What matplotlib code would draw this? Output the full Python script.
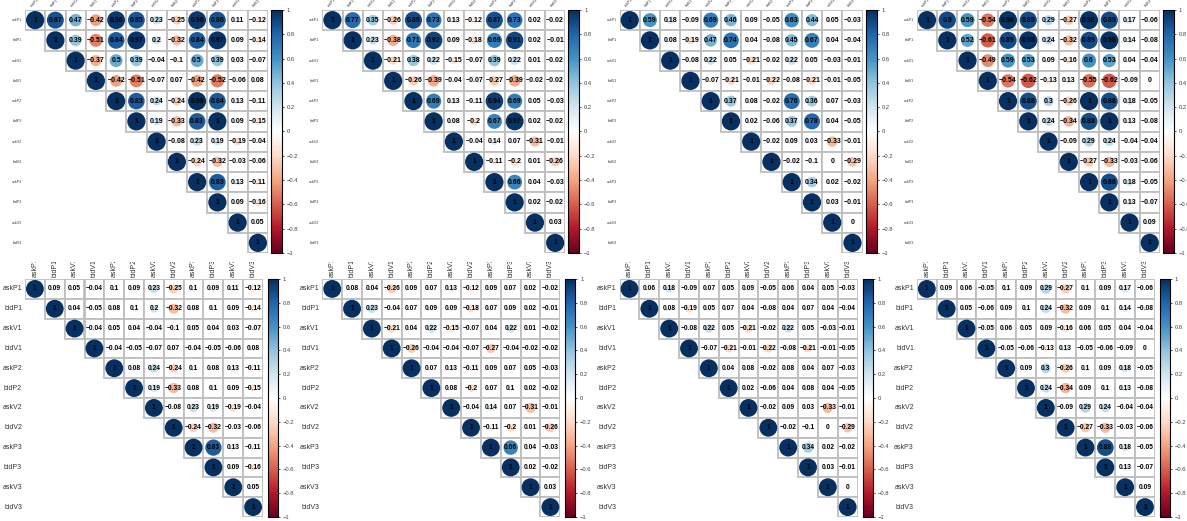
import numpy as np
import matplotlib
matplotlib.use('Agg')
import matplotlib.pyplot as plt
from matplotlib.colors import LinearSegmentedColormap, Normalize
from matplotlib.patches import Rectangle, Circle
from matplotlib.cm import ScalarMappable
from matplotlib.transforms import Bbox, TransformedBbox

plt.rcParams['font.family'] = ['Liberation Sans', 'DejaVu Sans']

labels = ['askP1', 'bidP1', 'askV1', 'bidV1', 'askP2', 'bidP2',
          'askV2', 'bidV2', 'askP3', 'bidP3', 'askV3', 'bidV3']

# upper triangle rows (diagonal first)
p1 = [[1, 0.87, 0.47, -0.42, 0.96, 0.85, 0.23, -0.25, 0.96, 0.86, 0.11, -0.12],
      [1, 0.39, -0.51, 0.84, 0.97, 0.2, -0.32, 0.84, 0.97, 0.09, -0.14],
      [1, -0.37, 0.5, 0.39, -0.04, -0.1, 0.5, 0.39, 0.03, -0.07],
      [1, -0.42, -0.51, -0.07, 0.07, -0.42, -0.52, -0.06, 0.08],
      [1, 0.83, 0.24, -0.24, 0.99, 0.84, 0.13, -0.11],
      [1, 0.19, -0.33, 0.83, 1, 0.09, -0.15],
      [1, -0.08, 0.23, 0.19, -0.19, -0.04],
      [1, -0.24, -0.32, -0.03, -0.06],
      [1, 0.83, 0.13, -0.11],
      [1, 0.09, -0.16],
      [1, 0.05],
      [1]]

p2 = [[1, 0.77, 0.35, -0.26, 0.89, 0.73, 0.13, -0.12, 0.87, 0.73, 0.02, -0.02],
      [1, 0.23, -0.38, 0.71, 0.92, 0.09, -0.18, 0.69, 0.91, 0.02, -0.01],
      [1, -0.21, 0.38, 0.22, -0.15, -0.07, 0.39, 0.22, 0.01, -0.02],
      [1, -0.26, -0.39, -0.04, -0.07, -0.27, -0.39, -0.02, -0.02],
      [1, 0.69, 0.13, -0.11, 0.94, 0.69, 0.05, -0.03],
      [1, 0.08, -0.2, 0.67, 0.97, 0.02, -0.02],
      [1, -0.04, 0.14, 0.07, -0.31, -0.01],
      [1, -0.11, -0.2, 0.01, -0.26],
      [1, 0.66, 0.04, -0.03],
      [1, 0.02, -0.02],
      [1, 0.03],
      [1]]

p3 = [[1, 0.59, 0.18, -0.09, 0.69, 0.46, 0.09, -0.05, 0.63, 0.44, 0.05, -0.03],
      [1, 0.08, -0.19, 0.47, 0.74, 0.04, -0.08, 0.45, 0.67, 0.04, -0.04],
      [1, -0.08, 0.22, 0.05, -0.21, -0.02, 0.22, 0.05, -0.03, -0.01],
      [1, -0.07, -0.21, -0.01, -0.22, -0.08, -0.21, -0.01, -0.05],
      [1, 0.37, 0.08, -0.02, 0.76, 0.36, 0.07, -0.03],
      [1, 0.02, -0.06, 0.37, 0.78, 0.04, -0.05],
      [1, -0.02, 0.09, 0.03, -0.33, -0.01],
      [1, -0.02, -0.1, 0, -0.29],
      [1, 0.34, 0.02, -0.02],
      [1, 0.03, -0.01],
      [1, 0],
      [1]]

p4 = [[1, 0.9, 0.59, -0.54, 0.98, 0.89, 0.29, -0.27, 0.98, 0.89, 0.17, -0.06],
      [1, 0.52, -0.61, 0.89, 0.98, 0.24, -0.32, 0.89, 0.98, 0.14, -0.08],
      [1, -0.49, 0.59, 0.53, 0.09, -0.16, 0.6, 0.53, 0.04, -0.04],
      [1, -0.54, -0.62, -0.13, 0.13, -0.55, -0.62, -0.09, 0],
      [1, 0.88, 0.3, -0.26, 1, 0.88, 0.18, -0.05],
      [1, 0.24, -0.34, 0.88, 1, 0.13, -0.08],
      [1, -0.09, 0.29, 0.24, -0.04, -0.04],
      [1, -0.27, -0.33, -0.03, -0.06],
      [1, 0.88, 0.18, -0.05],
      [1, 0.13, -0.07],
      [1, 0.09],
      [1]]

p5 = [[1, 0.09, 0.05, -0.04, 0.1, 0.09, 0.23, -0.25, 0.1, 0.09, 0.11, -0.12],
      [1, 0.04, -0.05, 0.08, 0.1, 0.2, -0.32, 0.08, 0.1, 0.09, -0.14],
      [1, -0.04, 0.05, 0.04, -0.04, -0.1, 0.05, 0.04, 0.03, -0.07],
      [1, -0.04, -0.05, -0.07, 0.07, -0.04, -0.05, -0.06, 0.08],
      [1, 0.08, 0.24, -0.24, 0.1, 0.08, 0.13, -0.11],
      [1, 0.19, -0.33, 0.08, 0.1, 0.09, -0.15],
      [1, -0.08, 0.23, 0.19, -0.19, -0.04],
      [1, -0.24, -0.32, -0.03, -0.06],
      [1, 0.83, 0.13, -0.11],
      [1, 0.09, -0.16],
      [1, 0.05],
      [1]]

p6 = [[1, 0.08, 0.04, -0.26, 0.09, 0.07, 0.13, -0.12, 0.09, 0.07, 0.02, -0.02],
      [1, 0.23, -0.04, 0.07, 0.09, 0.09, -0.18, 0.07, 0.09, 0.02, -0.01],
      [1, -0.21, 0.04, 0.22, -0.15, -0.07, 0.04, 0.22, 0.01, -0.02],
      [1, -0.26, -0.04, -0.04, -0.07, -0.27, -0.04, -0.02, -0.02],
      [1, 0.07, 0.13, -0.11, 0.09, 0.07, 0.05, -0.03],
      [1, 0.08, -0.2, 0.07, 0.1, 0.02, -0.02],
      [1, -0.04, 0.14, 0.07, -0.31, -0.01],
      [1, -0.11, -0.2, 0.01, -0.26],
      [1, 0.66, 0.04, -0.03],
      [1, 0.02, -0.02],
      [1, 0.03],
      [1]]

p7 = [[1, 0.06, 0.18, -0.09, 0.07, 0.05, 0.09, -0.05, 0.06, 0.04, 0.05, -0.03],
      [1, 0.08, -0.19, 0.05, 0.07, 0.04, -0.08, 0.04, 0.07, 0.04, -0.04],
      [1, -0.08, 0.22, 0.05, -0.21, -0.02, 0.22, 0.05, -0.03, -0.01],
      [1, -0.07, -0.21, -0.01, -0.22, -0.08, -0.21, -0.01, -0.05],
      [1, 0.04, 0.08, -0.02, 0.08, 0.04, 0.07, -0.03],
      [1, 0.02, -0.06, 0.04, 0.08, 0.04, -0.05],
      [1, -0.02, 0.09, 0.03, -0.33, -0.01],
      [1, -0.02, -0.1, 0, -0.29],
      [1, 0.34, 0.02, -0.02],
      [1, 0.03, -0.01],
      [1, 0],
      [1]]

p8 = [[1, 0.09, 0.06, -0.05, 0.1, 0.09, 0.29, -0.27, 0.1, 0.09, 0.17, -0.06],
      [1, 0.05, -0.06, 0.09, 0.1, 0.24, -0.32, 0.09, 0.1, 0.14, -0.08],
      [1, -0.05, 0.06, 0.05, 0.09, -0.16, 0.06, 0.05, 0.04, -0.04],
      [1, -0.05, -0.06, -0.13, 0.13, -0.05, -0.06, -0.09, 0],
      [1, 0.09, 0.3, -0.26, 0.1, 0.09, 0.18, -0.05],
      [1, 0.24, -0.34, 0.09, 0.1, 0.13, -0.08],
      [1, -0.09, 0.29, 0.24, -0.04, -0.04],
      [1, -0.27, -0.33, -0.03, -0.06],
      [1, 0.88, 0.18, -0.05],
      [1, 0.13, -0.07],
      [1, 0.09],
      [1]]

panels = [p1, p2, p3, p4, p5, p6, p7, p8]
cb_ticks = [-1, -0.8, -0.6, -0.4, -0.2, 0, 0.2, 0.4, 0.6, 0.8, 1]

# corrplot COL2('RdBu')
cmap = LinearSegmentedColormap.from_list('corr', [
    '#67001F', '#B2182B', '#D6604D', '#F4A582', '#FDDBC7', '#FFFFFF',
    '#D1E5F0', '#92C5DE', '#4393C3', '#2166AC', '#053061'], N=200)
norm = Normalize(-1, 1)

W, H = 1187, 521
fig = plt.figure(figsize=(W / 100, H / 100), dpi=100)


def fmt(v):
    s = ('%.2f' % v).rstrip('0').rstrip('.')
    if s in ('-0', '0'):
        s = '0'
    return s.replace('-', '\u2212')


def px_axes(l, t, w, h):
    return fig.add_axes([l / W, 1 - (t + h) / H, w / W, h / H])


for k, rows in enumerate(panels):
    c = k % 4
    top_row = k < 4
    x0 = 297.3 * c
    if top_row:
        gl, gt, gs = x0 + 25, 10, 243
        cl, cw = x0 + 271, 11
        lab_fs, num_fs, cb_fs = 2.6, 5, 4.2
    else:
        gl, gt, gs = x0 + 25, 279, 238
        cl, cw = x0 + 268, 10
        lab_fs, num_fs, cb_fs = 5, 4.8, 4.2

    ax = px_axes(gl, gt, gs, gs)
    n = len(labels)
    ax.set_xlim(-0.5, n - 0.5)
    ax.set_ylim(n - 0.5, -0.5)
    ax.axis('off')

    for i, row in enumerate(rows):
        for dj, v in enumerate(row):
            j = i + dj
            ax.add_patch(Rectangle((j - 0.5, i - 0.5), 1, 1, facecolor='white',
                                   edgecolor='#BEBEBE', lw=1.3, zorder=1))
            r = 0.9 * np.sqrt(abs(v)) / 2
            if r > 0:
                ax.add_patch(Circle((j, i), r, facecolor=cmap(norm(v)),
                                    edgecolor='none', zorder=2))
            ax.text(j, i, fmt(v), ha='center', va='center', fontsize=num_fs,
                    fontweight='bold', color='black', zorder=3)

    # row labels on the left, column labels on top
    for i, name in enumerate(labels):
        ax.text(-0.65, i, name, ha='right', va='center', fontsize=lab_fs,
                color='#333333', clip_on=False)
        if top_row:
            ax.text(i - 0.15, -0.6, name, ha='left', va='bottom', rotation=45,
                    rotation_mode='anchor', fontsize=lab_fs, color='#333333',
                    clip_on=False)
        else:
            t = ax.text(i, -0.6, name, ha='center', va='bottom', rotation=90,
                        fontsize=lab_fs, color='#333333')
            clip = Bbox([[x0 / W, 0], [(x0 + 297) / W, 1 - 262 / H]])
            t.set_clip_box(TransformedBbox(clip, fig.transFigure))
            t.set_clip_on(True)

    cax = px_axes(cl, gt, cw, gs)
    cb = fig.colorbar(ScalarMappable(norm=norm, cmap=cmap), cax=cax, ticks=cb_ticks)
    cb.outline.set_linewidth(0.8)
    cb.ax.set_yticklabels([fmt(t) for t in cb_ticks])
    cb.ax.tick_params(labelsize=cb_fs, length=1.5, width=0.5, pad=2,
                      labelcolor='#444444')

fig.savefig('out.png', dpi=100)
